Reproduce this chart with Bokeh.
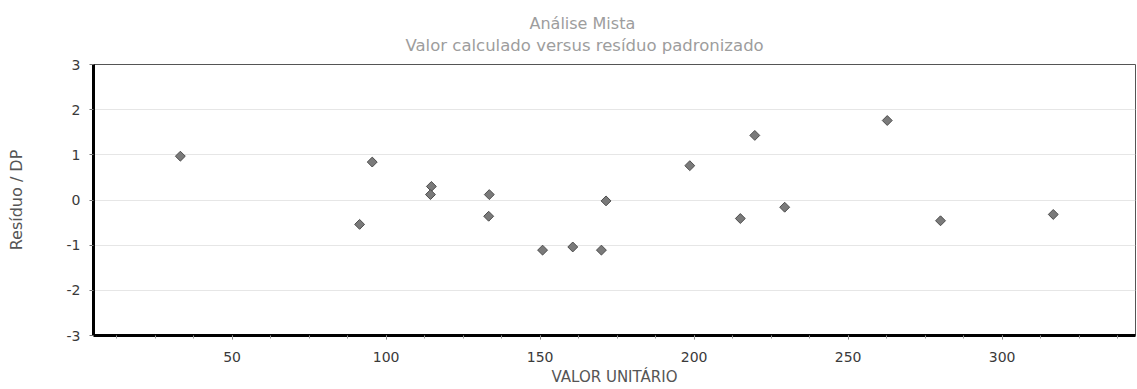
from bokeh.plotting import figure
from bokeh.models import Range1d, SingleIntervalTicker, Title, PrintfTickFormatter
from bokeh.embed import file_html
from bokeh.resources import INLINE
import numpy as np

# ---- data ----
valor_calculado = [33.2, 95.5, 91.4, 114.7, 114.4, 133.5, 133.3, 150.8, 160.6,
                   169.9, 171.4, 198.6, 219.7, 215.0, 229.4, 262.7, 280.0, 316.6]
residuo_dp = [0.97, 0.84, -0.54, 0.30, 0.12, 0.12, -0.36, -1.11, -1.04,
              -1.11, -0.02, 0.76, 1.43, -0.41, -0.16, 1.76, -0.46, -0.32]

title_text = "Análise Mista"
subtitle_text = "Valor calculado versus resíduo padronizado"
x_label = "VALOR UNITÁRIO"
y_label = "Resíduo / DP"

X_MIN, X_MAX = 5, 343.3
Y_MIN, Y_MAX = -3, 3

FONT = "DejaVu Sans"
W, H = 1137, 389
BL, BR, BT, BB = 93, 2, 64, 54

p = figure(width=W, height=H, output_backend="svg", toolbar_location=None,
           x_range=Range1d(X_MIN, X_MAX), y_range=Range1d(Y_MIN, Y_MAX),
           min_border_left=BL, min_border_right=BR,
           min_border_top=BT, min_border_bottom=BB)
p.title = None
p.background_fill_color = "white"
p.border_fill_color = "white"
p.outline_line_color = "#555555"
p.outline_line_width = 1

# titles (subtitle first -> closest to the frame)
sub = Title(text=subtitle_text, align="left", offset=312, vertical_align="top",
            standoff=15, text_font=FONT, text_font_size="16.5px",
            text_font_style="normal", text_color="#9d9d9d")
tit = Title(text=title_text, align="left", offset=436, vertical_align="bottom",
            standoff=-9, text_font=FONT, text_font_size="16px",
            text_font_style="normal", text_color="#9d9d9d")
p.add_layout(sub, "above")
p.add_layout(tit, "above")

# axes
p.xaxis.ticker = SingleIntervalTicker(interval=50, num_minor_ticks=4)
p.yaxis.ticker = SingleIntervalTicker(interval=1, num_minor_ticks=0)
p.xaxis.formatter = PrintfTickFormatter(format="%d")
p.yaxis.formatter = PrintfTickFormatter(format="%d")
for ax in (p.xaxis, p.yaxis):
    ax.axis_line_color = "black"
    ax.axis_line_width = 3
    ax.major_tick_line_color = "#777777"
    ax.minor_tick_line_color = "#999999"
    ax.major_tick_in = 0
    ax.major_tick_out = 4
    ax.major_label_text_font = FONT
    ax.major_label_text_font_size = "14px"
    ax.major_label_text_color = "#3a3a3a"
    ax.axis_label_text_font = FONT
    ax.axis_label_text_font_style = "normal"
    ax.axis_label_text_color = "#555555"

p.xaxis.minor_tick_in = 0
p.xaxis.minor_tick_out = 3
p.xaxis.major_label_standoff = 12
p.xaxis.axis_label = x_label
p.xaxis.axis_label_text_font_size = "15px"
p.xaxis.axis_label_standoff = 3

p.yaxis.minor_tick_line_color = None
p.yaxis.major_label_standoff = 9
p.yaxis.axis_label = y_label
p.yaxis.axis_label_text_font_size = "16px"
p.yaxis.axis_label_standoff = 38

# grid
p.xgrid.grid_line_color = None
p.ygrid.grid_line_color = "#e6e6e6"
p.ygrid.grid_line_width = 1

# points
p.scatter(valor_calculado, residuo_dp, marker="square", angle=np.pi / 4,
          size=7, fill_color="#7a7a7a", line_color="#4d4d4d", line_width=1)

open("out.html", "w").write(file_html(p, INLINE))
